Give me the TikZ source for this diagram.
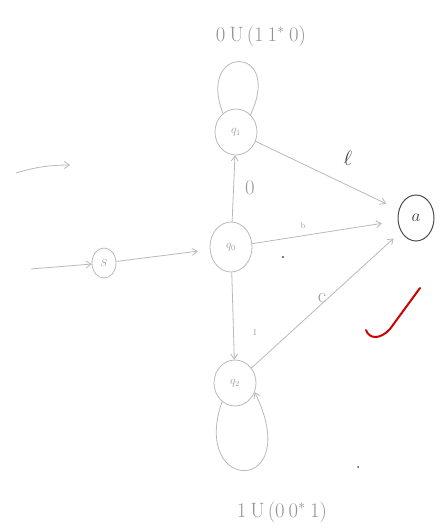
\documentclass[tikz,border=0pt]{standalone}
\usetikzlibrary{shapes.geometric,arrows.meta}
\begin{document}
\begin{tikzpicture}[x=1pt,y=1pt,
  pen/.style={draw=gray!55, line width=0.8pt},
  st/.style={pen, ellipse, minimum width=42pt, minimum height=46pt, inner sep=0pt, text=gray!75, font=\large},
  arr/.style={pen, -{Straight Barb[length=5pt,width=7pt]}},
  lbl/.style={text=gray!80, font=\Large}]
\useasboundingbox (0,0) rectangle (445,528);
% states
\node[st] (q1) at (236,396) {$q_1$};
\node[st, minimum height=50pt] (q0) at (231,281) {$q_0$};
\node[st] (q2) at (235,145) {$q_2$};
\node[st, minimum width=24pt, minimum height=30pt, font=\normalsize] (s) at (104,265) {$S$};
\node[st, draw=black!70, line width=1pt, minimum width=36pt, minimum height=46pt, text=black!75, font=\LARGE] (a) at (416,310) {$a$};
% free arrows
\coordinate (f1) at (16,355);
\coordinate (f2) at (70,363);
\draw[arr] (f1) to[bend left=8] (f2);
\coordinate (in) at (31,259);
\draw[arr] (in) -- (s);
% transitions
\draw[arr, shorten >=12pt] (s) -- (q0);
\draw[arr] (q0) -- (q1);
\draw[arr] (q0) -- (q2);
\draw[arr, shorten >=14pt] (q1) -- (a);
\draw[arr, shorten >=16pt] (q0) -- (a);
\draw[arr, shorten >=10pt] (q2) -- (a);
% edge labels
\node[lbl, font=\huge] (l0) at (250,340) {0};
\node[lbl, font=\small] (l1) at (255,195) {1};
\node[lbl, font=\huge, text=black!75] (ll) at (348,370) {$\ell$};
\node[lbl, font=\footnotesize] (lb) at (303,302) {b};
\node[lbl, font=\huge] (lc) at (322,230) {c};
% self loops
\draw[pen] (q1.125) .. controls (196,484) and (284,484) .. (q1.50);
\draw[arr] (q2.235) .. controls (190,33) and (305,33) .. (q2.-25);
% loop labels
\node[lbl, font=\huge, text=gray!85] (t1) at (261,492) {0\hspace{4pt}U\hspace{3pt}(1\hspace{4pt}1\rlap{$^{*}$}\hspace{12pt}0)};
\node[lbl, font=\huge, text=gray!85] (t2) at (282,16) {1\hspace{4pt}U\hspace{3pt}(0\hspace{4pt}0\rlap{$^{*}$}\hspace{12pt}1)};
% red check
\draw[red!80!black, line width=2pt, line cap=round] (366,198) .. controls (369,189) and (380,188) .. (390,199) -- (420,240);
% stray dots
\fill[black!70] (283,271) circle (1.2pt);
\fill[black!70] (358,61) circle (1pt);
\end{tikzpicture}
\end{document}
